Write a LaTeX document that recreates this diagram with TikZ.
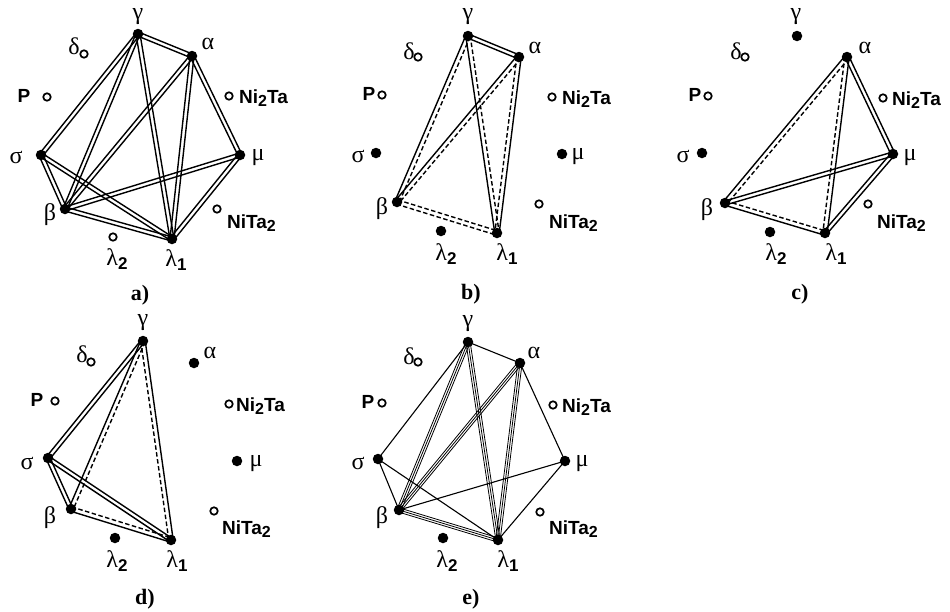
\documentclass[tikz,border=0pt]{standalone}
\usepackage{fontspec}
\setmainfont{Liberation Serif}
\newfontfamily\lsans{Liberation Sans}
\usetikzlibrary{calc}
\newcommand\gfont{\fontsize{24}{26}\selectfont}
\newcommand\sfnt{\lsans\bfseries\fontsize{19}{21}\selectfont}
\newcommand\pfnt{\bfseries\fontsize{22}{24}\selectfont}
\newcommand\sbs[1]{\raisebox{-0.35ex}{\fontsize{16}{16}\selectfont #1}}
\newcommand\lam[1]{λ\sbs{\lsans\bfseries\fontsize{17}{17}\selectfont #1}}
\newcommand\offl[4]{\draw[#1] ($(#3)!#2!90:(#4)$) -- ($(#4)!#2!-90:(#3)$);}
\newcommand\dbl[2]{\offl{ln}{2pt}{#1}{#2}\offl{ln}{-2pt}{#1}{#2}}
\newcommand\sdp[4]{\offl{#3}{2.2pt}{#1}{#2}\offl{#4}{-2.2pt}{#1}{#2}}
\newcommand\trp[2]{\offl{tl}{2.1pt}{#1}{#2}\draw[tl] (#1.center) -- (#2.center);\offl{tl}{-2.1pt}{#1}{#2}}
\newcommand\sgl[2]{\draw[sg] (#1.center) -- (#2.center);}
\tikzset{
  dot/.style={circle, fill=black, inner sep=0pt, minimum size=10.5pt},
  odot/.style={circle, draw=black, line width=1.7pt, fill=white, inner sep=0pt, minimum size=7.5pt},
  gl/.style={font=\gfont, inner sep=0pt},
  sl/.style={font=\sfnt, inner sep=0pt},
  sw/.style={font=\sfnt, inner sep=0pt, anchor=west},
  pl/.style={font=\pfnt, inner sep=0pt},
  ln/.style={line width=1.4pt},
  dsh/.style={line width=1.4pt, dash pattern=on 4.5pt off 2.5pt},
  tl/.style={line width=0.8pt},
  sg/.style={line width=1.1pt},
}
\begin{document}
\begin{tikzpicture}[x=1pt,y=-1pt]
\useasboundingbox (0,0) rectangle (950,611);
\fill[white] (0,0) rectangle (950,611);
% ---------------- panel a
\node[dot] (ag) at (138,34) {};
\node[dot] (aa) at (192,56) {};
\node[dot] (as) at (41,155) {};
\node[dot] (ab) at (65,209) {};
\node[dot] (al1) at (172,239) {};
\node[dot] (am) at (240,155) {};
\node[odot] (al2) at (113,237) {};
\node[odot] (ant2) at (217,209) {};
\node[odot] (an2t) at (229,96) {};
\node[odot] (ap) at (47,97) {};
\node[odot] (ad) at (84,54) {};
\node[gl] (agL) at (138,17) {γ};
\node[gl] (aaL) at (208,44) {α};
\node[gl] (adL) at (74,46) {δ};
\node[sl] (apL) at (24,96) {P};
\node[sw] (an2tL) at (239,98) {Ni\sbs{2}Ta};
\node[gl] (asL) at (16,157) {σ};
\node[gl] (amL) at (258,158) {μ};
\node[gl] (abL) at (50,215) {β};
\node[sw] (ant2L) at (227,223) {NiTa\sbs{2}};
\node[gl] (al2L) at (117,259) {\lam{2}};
\node[gl] (al1L) at (176,260) {\lam{1}};
\node[pl] (aP) at (140,295) {a)};
\dbl{ag}{aa}\dbl{ag}{as}\dbl{ag}{ab}\dbl{ag}{al1}
\dbl{aa}{ab}\dbl{aa}{al1}\dbl{aa}{am}
\dbl{as}{ab}\dbl{as}{al1}
\dbl{ab}{al1}\dbl{ab}{am}\dbl{am}{al1}
% ---------------- panel b
\node[dot] (bg) at (468,36) {};
\node[dot] (ba) at (519,57) {};
\node[dot] (bs) at (376,153) {};
\node[dot] (bb) at (397,202) {};
\node[dot] (bl1) at (497,233) {};
\node[dot] (bm) at (562,154) {};
\node[dot] (bl2) at (441,231) {};
\node[odot] (bnt2) at (539,204) {};
\node[odot] (bn2t) at (552,97) {};
\node[odot] (bp) at (382,95) {};
\node[odot] (bd) at (418,57) {};
\node[gl] (bgL) at (468,17) {γ};
\node[gl] (baL) at (535,48) {α};
\node[gl] (bdL) at (409,51) {δ};
\node[sl] (bpL) at (369,94) {P};
\node[sw] (bn2tL) at (562,99) {Ni\sbs{2}Ta};
\node[gl] (bsL) at (358,156) {σ};
\node[gl] (bmL) at (578,157) {μ};
\node[gl] (bbL) at (382,209) {β};
\node[sw] (bnt2L) at (549,223) {NiTa\sbs{2}};
\node[gl] (bl2L) at (446,254) {\lam{2}};
\node[gl] (bl1L) at (507,254) {\lam{1}};
\node[pl] (bP) at (471,294) {b)};
\dbl{bg}{ba}
\sdp{bg}{bb}{dsh}{ln}
\sdp{bg}{bl1}{dsh}{ln}
\sdp{ba}{bl1}{ln}{dsh}
\sdp{ba}{bb}{dsh}{ln}
\sdp{bb}{bl1}{dsh}{dsh}
% ---------------- panel c
\node[dot] (cg) at (797,36) {};
\node[dot] (ca) at (847,57) {};
\node[dot] (cs) at (702,153) {};
\node[dot] (cb) at (725,203) {};
\node[dot] (cl1) at (825,233) {};
\node[dot] (cm) at (893,154) {};
\node[dot] (cl2) at (770,232) {};
\node[odot] (cnt2) at (868,204) {};
\node[odot] (cn2t) at (883,98) {};
\node[odot] (cp) at (708,96) {};
\node[odot] (cd) at (745,57) {};
\node[gl] (cgL) at (796,17) {γ};
\node[gl] (caL) at (865,48) {α};
\node[gl] (cdL) at (736,51) {δ};
\node[sl] (cpL) at (695,95) {P};
\node[sw] (cn2tL) at (892,100) {Ni\sbs{2}Ta};
\node[gl] (csL) at (683,156) {σ};
\node[gl] (cmL) at (910,158) {μ};
\node[gl] (cbL) at (707,210) {β};
\node[sw] (cnt2L) at (877,223) {NiTa\sbs{2}};
\node[gl] (cl2L) at (776,254) {\lam{2}};
\node[gl] (cl1L) at (836,254) {\lam{1}};
\node[pl] (cP) at (800,294) {c)};
\sdp{ca}{cb}{dsh}{ln}
\sdp{ca}{cl1}{ln}{dsh}
\sdp{cb}{cl1}{dsh}{ln}
\dbl{ca}{cm}\dbl{cb}{cm}\dbl{cm}{cl1}
% ---------------- panel d
\node[dot] (dg) at (143,341) {};
\node[dot] (da) at (194,363) {};
\node[dot] (ds) at (48,458) {};
\node[dot] (db) at (71,509) {};
\node[dot] (dl1) at (171,540) {};
\node[dot] (dm) at (237,461) {};
\node[dot] (dl2) at (115,538) {};
\node[odot] (dnt2) at (214,511) {};
\node[odot] (dn2t) at (229,404) {};
\node[odot] (dp) at (55,401) {};
\node[odot] (dd) at (91,362) {};
\node[gl] (dgL) at (143,323) {γ};
\node[gl] (daL) at (210,353) {α};
\node[gl] (ddL) at (82,354) {δ};
\node[sl] (dpL) at (37,400) {P};
\node[sw] (dn2tL) at (236,406) {Ni\sbs{2}Ta};
\node[gl] (dsL) at (27,463) {σ};
\node[gl] (dmL) at (256,464) {μ};
\node[gl] (dbL) at (50,518) {β};
\node[sw] (dnt2L) at (222,529) {NiTa\sbs{2}};
\node[gl] (dl2L) at (117,561) {\lam{2}};
\node[gl] (dl1L) at (177,561) {\lam{1}};
\node[pl] (dP) at (145,599) {d)};
\dbl{dg}{ds}
\sdp{dg}{db}{dsh}{ln}
\sdp{dg}{dl1}{ln}{dsh}
\dbl{ds}{db}\dbl{ds}{dl1}
\sdp{db}{dl1}{dsh}{ln}
% ---------------- panel e
\node[dot] (eg) at (468,342) {};
\node[dot] (ea) at (520,363) {};
\node[dot] (es) at (378,459) {};
\node[dot] (eb) at (399,510) {};
\node[dot] (el1) at (498,540) {};
\node[dot] (em) at (565,461) {};
\node[dot] (el2) at (443,538) {};
\node[odot] (ent2) at (540,512) {};
\node[odot] (en2t) at (553,405) {};
\node[odot] (ep) at (382,403) {};
\node[odot] (ed) at (418,362) {};
\node[gl] (egL) at (468,324) {γ};
\node[gl] (eaL) at (534,353) {α};
\node[gl] (edL) at (409,356) {δ};
\node[sl] (epL) at (368,402) {P};
\node[sw] (en2tL) at (562,407) {Ni\sbs{2}Ta};
\node[gl] (esL) at (358,463) {σ};
\node[gl] (emL) at (582,464) {μ};
\node[gl] (ebL) at (382,518) {β};
\node[sw] (ent2L) at (549,529) {NiTa\sbs{2}};
\node[gl] (el2L) at (447,561) {\lam{2}};
\node[gl] (el1L) at (508,561) {\lam{1}};
\node[pl] (eP) at (471,599) {e)};
\sgl{eg}{ea}\sgl{eg}{es}\sgl{ea}{em}\sgl{es}{eb}
\sgl{es}{el1}\sgl{eb}{em}\sgl{em}{el1}
\trp{eg}{eb}\trp{ea}{eb}\trp{eg}{el1}\trp{ea}{el1}\trp{eb}{el1}
\end{tikzpicture}
\end{document}
